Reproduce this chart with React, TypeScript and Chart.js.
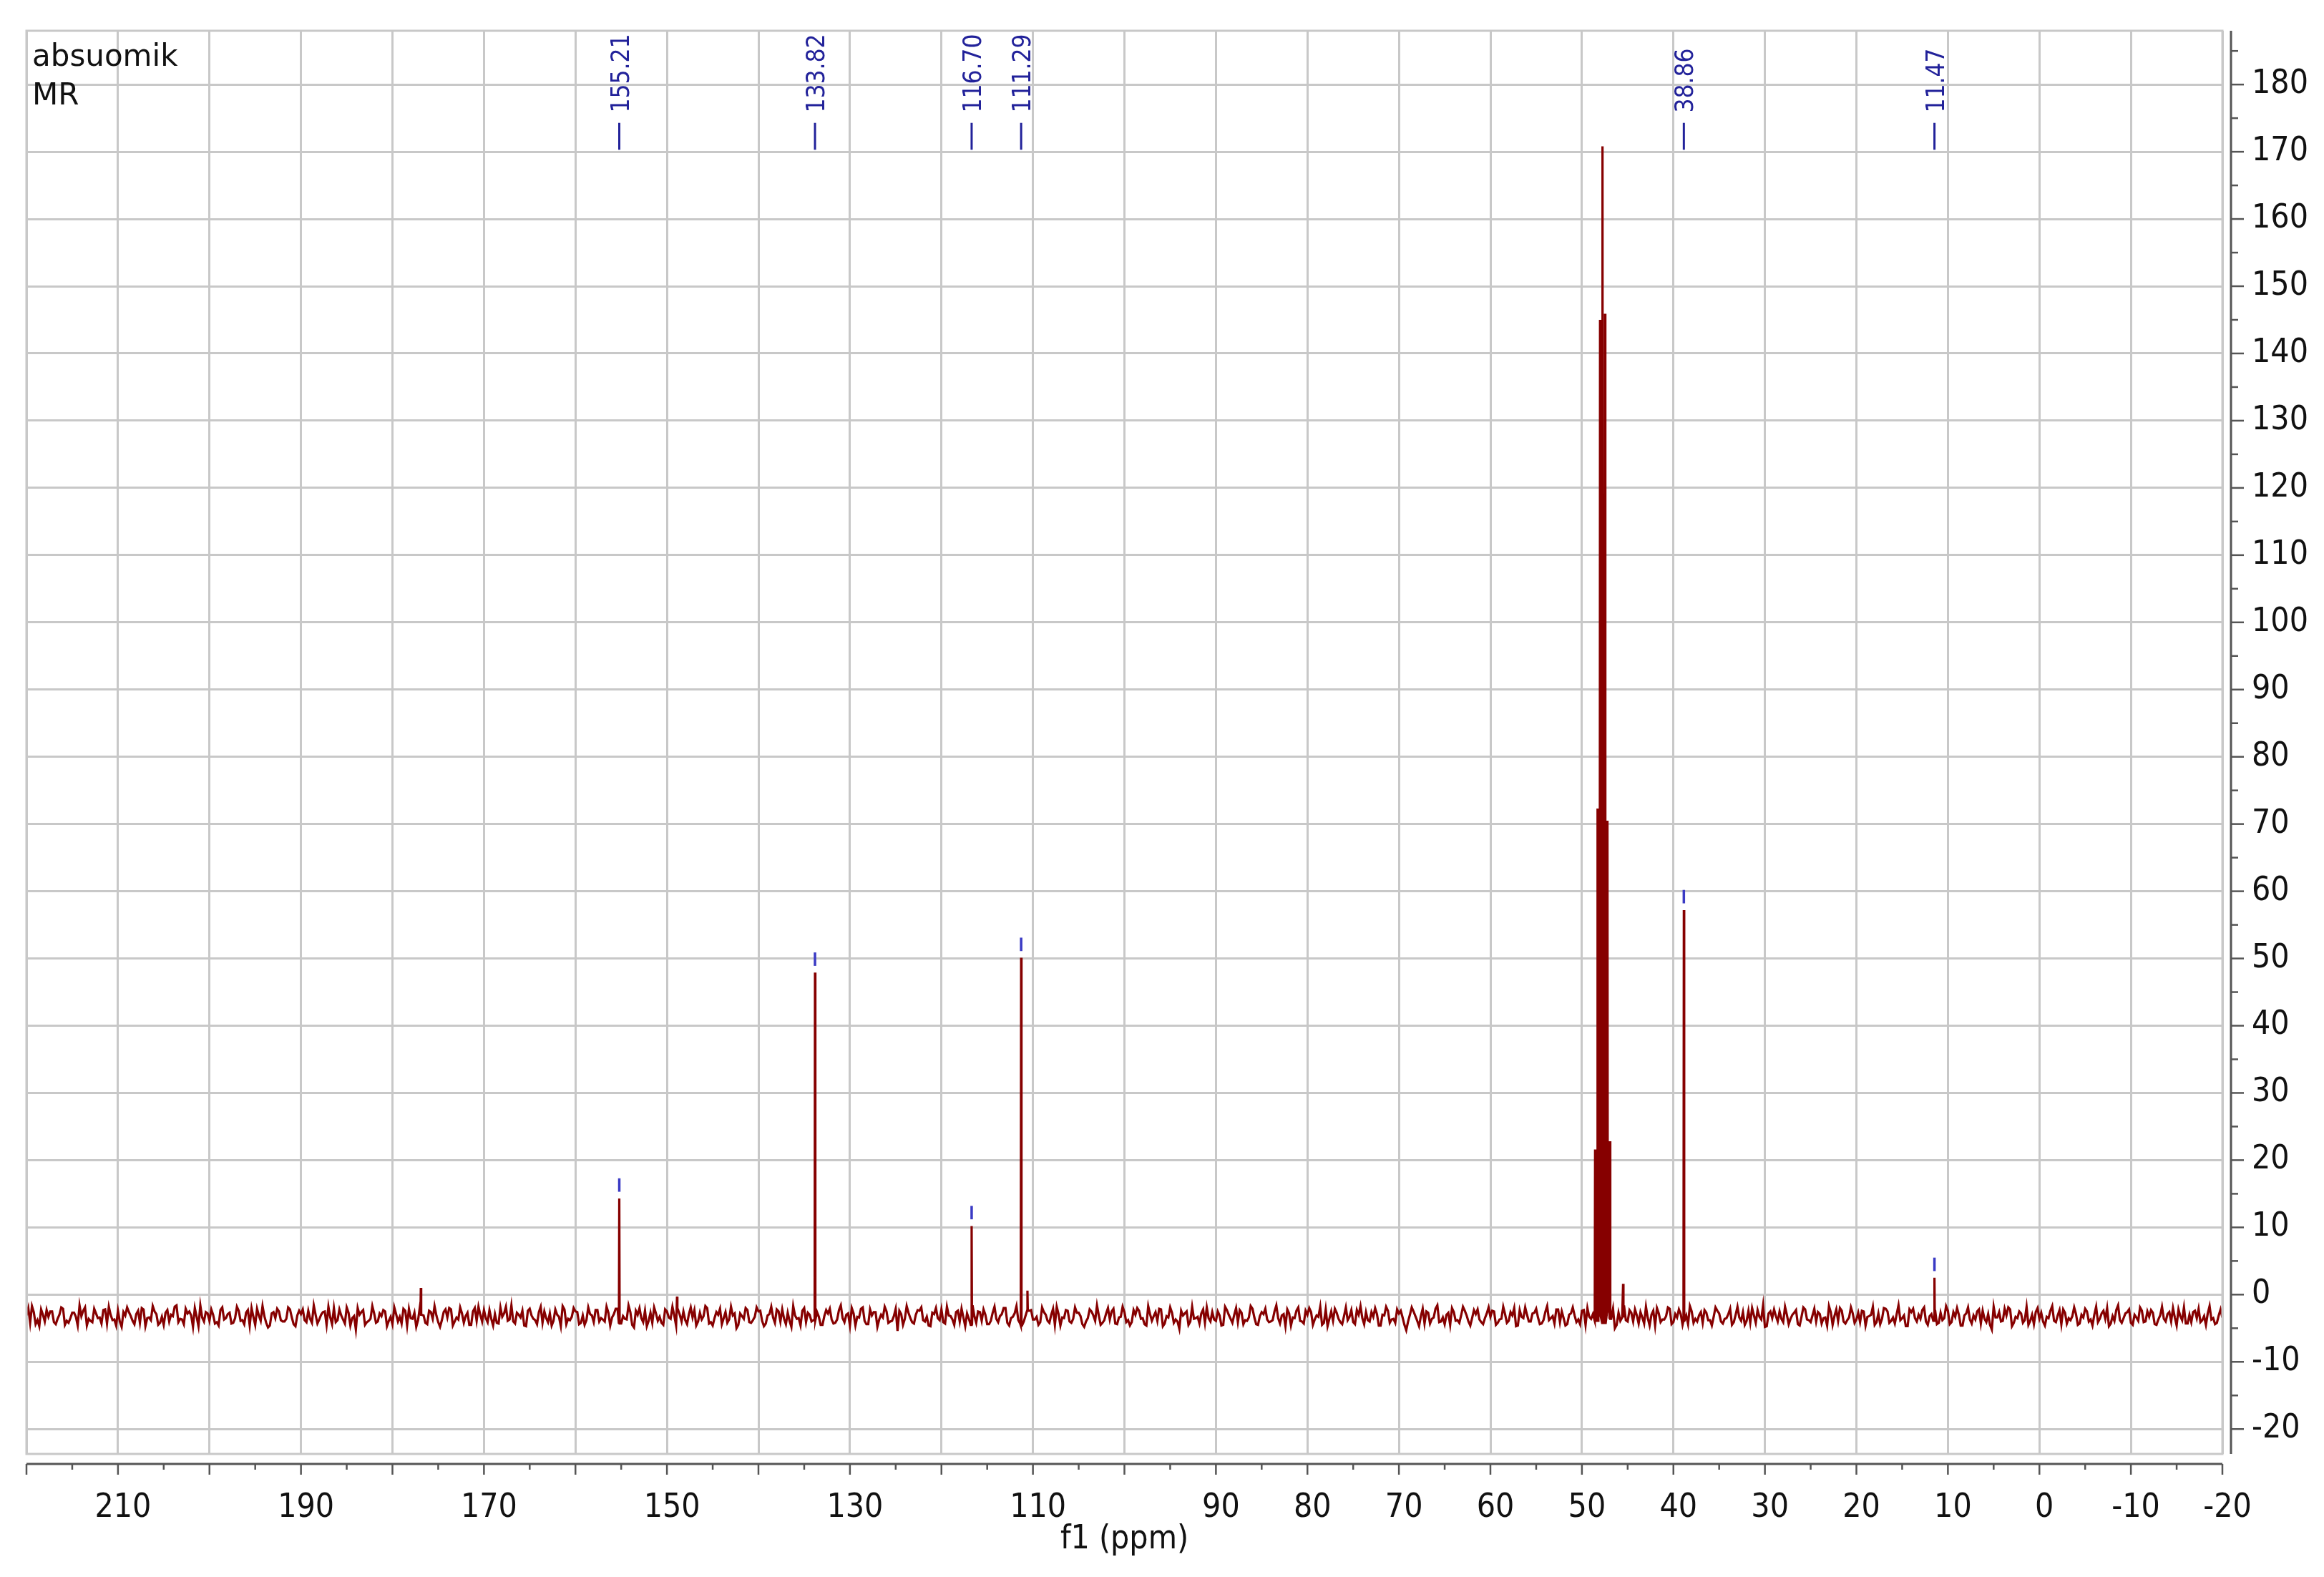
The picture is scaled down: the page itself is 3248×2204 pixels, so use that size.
import { useEffect, useRef } from "react";
import { Chart, registerables } from "chart.js";

Chart.register(...registerables);

// ---- axis ranges (ppm reversed) ----
const X_MIN = -20;
const X_MAX = 220;
const Y_MIN = -23.7;
const Y_MAX = 188;

// ---- baseline noise: samples every 0.4 ppm starting at 220 ppm ----
const noiseStart = 220;
const noiseStep = 0.4;
const noise = [
  -3.1,-4.2,-2.6,-3.8,-2.2,-4.0,-3.3,-2.5,-4.4,-3.0,-2.1,-3.9,-3.5,-2.7,-4.6,-3.2,-1.9,-3.6,-4.1,-2.8,
  -3.4,-2.3,-4.3,-3.0,-3.7,-2.4,-4.8,-3.1,-2.6,-3.9,-2.9,-4.2,-2.2,-3.5,-3.8,-2.5,-4.5,-3.3,-2.7,-4.0,
  -3.2,-1.6,-3.6,-4.4,-2.8,-3.1,-2.0,-4.7,-3.4,-2.6,-3.9,-3.0,-4.1,-2.3,-3.7,-2.9,-4.3,-3.5,-2.4,-3.8,
  -2.7,-4.6,-3.3,-2.1,-3.9,-3.2,-4.9,-2.8,-3.5,-2.5,-4.0,-3.6,-2.2,-4.4,-3.1,-2.9,-3.8,-2.4,-4.2,-3.0,
  -3.7,-2.6,-4.5,-3.4,-2.0,-3.8,-3.1,-4.3,-2.7,-3.5,-5.2,-3.0,-2.3,-4.1,-3.6,-2.8,-4.0,-3.2,-2.5,-3.9,
  -4.4,-2.9,-3.3,-2.1,-4.6,-3.5,-2.7,-3.8,-3.0,-4.2,-2.4,-3.6,-3.1,-4.8,-2.6,-3.4,-2.2,-4.0,-3.7,-2.8,
  -3.2,-4.5,-2.5,-3.9,-3.0,-2.3,-4.1,-3.6,-2.9,-4.3,-3.3,-1.8,-3.7,-4.0,-2.7,-3.4,-4.6,-2.4,-3.1,-3.8,
  -2.6,-4.2,-3.5,-2.8,-3.9,-3.0,-4.7,-2.2,-3.6,-3.3,-2.5,-4.4,-3.1,-3.8,-2.9,-4.1,-2.3,-3.5,-4.0,-2.7,
  -3.4,-2.1,-4.3,-3.2,-3.7,-2.6,-4.9,-3.0,-3.5,-2.4,-3.9,-4.2,-2.8,-3.3,-4.5,-2.5,-3.6,-3.1,-2.2,-4.0,
  -3.8,-2.9,-3.4,-4.6,-2.7,-3.2,-2.0,-4.1,-3.5,-3.0,-4.4,-2.6,-3.7,-3.1,-5.0,-2.8,-3.6,-2.3,-4.2,-3.3,
  -2.5,-3.9,-4.3,-2.9,-3.4,-2.2,-4.0,-3.6,-2.7,-4.8,-3.1,-3.5,-2.4,-4.1,-3.0,-3.8,-2.6,-4.5,-3.2,-2.8,
  -3.7,-4.2,-2.3,-3.5,-3.0,-4.6,-2.8,-3.3,-2.1,-3.9,-4.4,-3.1,-2.6,-3.7,-3.4,-2.5,-4.0,-3.2,-5.4,-2.9,
  -3.6,-2.7,-4.1,-3.0,-2.4,-3.8,-3.3,-4.7,-2.9,-3.5,-2.2,-4.3,-3.1,-3.7,-2.6,-4.0,-3.4,-2.8,-4.5,-3.2,
  -2.5,-3.9,-3.0,-4.4,-2.7,-3.6,-3.2,-2.0,-4.2,-3.5,-2.8,-3.8,-4.6,-3.1,-2.4,-3.7,-3.3,-4.1,-2.6,-3.9,
  -3.0,-4.5,-2.9,-3.4,-2.3,-4.0,-3.6,-2.7,-3.2,-4.8,-3.5,-2.5,-3.9,-3.1,-4.2,-2.8,-3.7,-2.1,-4.4,-3.3,
  -2.6,-3.8,-4.1,-3.0,-2.4,-3.5,-4.6,-2.9,-3.2,-3.9,-2.2,-4.3,-3.4,-2.7,-3.7,-5.1,-3.1,-2.5,-4.0,-3.6,
  -3.3,-2.8,-4.2,-3.5,-2.6,-3.9,-3.1,-4.5,-2.3,-3.6,-3.0,-4.1,-2.7,-3.8,-3.4,-2.1,-4.4,-3.2,-2.9,-3.7,
  -4.0,-2.5,-3.5,-3.1,-4.7,-2.8,-3.4,-2.4,-3.9,-4.3,-3.0,-2.6,-3.7,-3.3,-4.5,-2.2,-3.6,-3.9,-2.7,-4.1,
  -3.2,-3.8,-2.3,-4.4,-3.0,-3.5,-2.6,-4.0,-3.3,-2.9,-4.6,-3.1,-2.4,-3.7,-4.2,-2.8,-3.4,-5.3,-3.0,-2.5,
  -3.9,-3.2,-4.3,-2.7,-3.6,-2.1,-4.1,-3.4,-3.0,-4.5,-2.6,-3.8,-3.1,-2.4,-4.0,-3.5,-2.9,-3.7,-4.4,-2.8,
  -3.3,-2.5,-4.2,-3.6,-2.9,-3.9,-3.1,-4.7,-2.3,-3.5,-3.0,-4.0,-2.7,-3.4,-4.3,-2.6,-3.8,-3.2,-2.2,-4.1,
  -3.5,-4.4,-2.8,-3.1,-3.7,-2.4,-4.5,-3.3,-2.9,-3.9,-3.0,-4.2,-2.5,-3.6,-5.0,-2.7,-3.4,-3.8,-2.3,-4.0,
  -3.1,-2.6,-4.3,-3.5,-3.0,-4.6,-2.8,-3.7,-3.2,-2.1,-4.1,-3.4,-2.9,-3.9,-4.4,-2.5,-3.6,-3.1,-4.2,-2.7,
  -3.8,-3.3,-2.4,-4.0,-3.6,-2.9,-4.5,-3.0,-3.4,-2.6,-3.9,-4.2,-3.1,-2.3,-3.7,-4.8,-2.8,-3.5,-3.2,-2.5,
  -4.1,-3.0,-3.6,-2.7,-4.4,-3.3,-2.2,-3.8,-3.1,-4.0,-2.9,-3.5,-4.6,-2.6,-3.2,-3.9,-2.4,-4.3,-3.4,-2.8,
  -3.7,-4.1,-2.5,-3.3,-3.0,-4.5,-2.8,-3.6,-2.1,-4.2,-3.4,-2.9,-3.8,-3.1,-4.7,-2.6,-3.5,-3.0,-2.3,-4.0,
  -3.2,-3.9,-4.4,-2.7,-3.5,-2.4,-4.1,-3.3,-3.0,-4.6,-2.8,-3.7,-3.1,-2.5,-4.3,-3.6,-2.9,-5.2,-3.4,-2.6,
  -3.9,-3.1,-2.2,-4.2,-3.5,-2.8,-3.8,-4.5,-3.0,-2.6,-3.6,-4.0,-3.3,-2.4,-3.9,-3.1,-4.4,-2.7,-3.5,-3.2,
  -2.9,-4.3,-3.4,-2.5,-3.7,-3.0,-4.1,-2.8,-3.6,-4.7,-3.2,-2.3,-3.8,-3.5,-2.6,-4.2,-3.0,-3.9,-2.4,-4.0,
  -3.3,-2.7,-4.5,-3.1,-3.6,-2.9,-4.0,-3.4,-2.2,-3.8,-4.3,-3.0,-2.6,-3.5,-4.1,-3.2,-2.8,-3.7,-4.4,-3.1,
  -3.4,
];
// ---- in-between noise samples: every 0.4 ppm starting at 219.8 ppm ----
const noiseMidStart = 219.8;
const noiseMid = [
  -2.0,-1.7,-4.4,-4.7,-3.0,-2.3,-2.5,-4.1,-3.6,-1.9,-4.5,-4.2,-2.7,-3.3,-1.6,-2.4,-4.6,-3.9,-2.1,-3.5,
  -4.3,-2.2,-1.8,-3.8,-4.6,-4.0,-2.6,-1.9,-3.2,-4.4,-2.4,-2.0,-4.7,-3.4,-1.7,-2.9,-4.2,-4.5,-2.3,-3.0,
  -1.8,-4.1,-3.7,-2.1,-2.5,-4.8,-3.3,-1.6,-4.0,-2.8,-2.2,-4.3,-4.6,-1.9,-3.5,-2.7,-4.2,-1.8,-3.9,-4.4,
  -2.3,-2.0,-4.5,-3.1,-1.7,-4.2,-4.6,-2.6,-2.1,-3.8,-4.0,-1.9,-3.4,-4.7,-2.4,-2.2,-4.1,-3.6,-1.6,-4.3,
  -3.0,-2.5,-1.8,-4.4,-4.1,-2.2,-3.7,-1.9,-4.6,-3.2,-2.0,-2.6,-4.5,-3.9,-1.7,-4.2,-2.8,-2.3,-4.7,-3.3,
  -1.9,-4.0,-4.3,-2.4,-2.1,-3.6,-4.8,-1.8,-3.1,-4.4,-2.6,-1.7,-4.1,-3.8,-2.2,-2.0,-4.6,-3.4,-1.9,-4.2,
  -2.7,-4.5,-2.0,-1.8,-4.0,-3.5,-2.3,-4.6,-4.2,-1.9,-2.8,-3.9,-1.6,-4.3,-3.0,-2.4,-4.7,-2.1,-3.6,-4.4,
  -1.8,-2.5,-4.1,-4.6,-2.2,-3.3,-1.7,-4.4,-3.8,-2.0,-2.6,-4.2,-4.5,-1.9,-3.1,-2.3,-4.0,-3.7,-1.8,-4.6,
  -2.9,-2.1,-4.3,-3.6,-1.6,-4.5,-2.4,-2.0,-4.1,-4.7,-2.7,-1.9,-3.9,-4.2,-2.2,-3.4,-1.8,-4.6,-3.0,-2.5,
  -4.4,-1.9,-2.3,-4.0,-3.7,-1.7,-4.3,-4.6,-2.6,-2.1,-3.5,-4.2,-1.8,-2.8,-4.5,-3.2,-2.0,-4.1,-3.8,-1.9,
  -2.4,-4.7,-3.1,-1.8,-4.2,-2.5,-2.2,-4.4,-3.9,-1.7,-3.6,-4.6,-2.0,-2.7,-4.0,-1.9,-3.3,-4.5,-2.3,-2.1,
  -4.3,-3.7,-1.6,-4.1,-2.8,-2.0,-4.6,-3.4,-1.9,-4.4,-2.2,-2.6,-4.8,-3.0,-1.8,-4.2,-3.9,-2.1,-2.4,-4.5,
  -1.7,-3.5,-4.3,-2.3,-1.9,-4.0,-4.6,-2.7,-2.0,-3.8,-4.1,-1.8,-3.2,-4.5,-2.4,-2.1,-4.7,-3.6,-1.6,-4.2,
  -2.6,-2.2,-4.4,-3.9,-1.8,-4.1,-2.9,-2.0,-4.6,-3.3,-1.7,-4.3,-4.0,-2.5,-2.3,-3.7,-4.5,-1.9,-3.0,-4.2,
  -2.1,-1.8,-4.6,-3.5,-2.4,-4.2,-1.9,-2.7,-4.4,-4.0,-2.2,-3.1,-1.6,-4.5,-3.8,-2.0,-2.5,-4.3,-3.4,-1.8,
  -4.1,-4.6,-2.3,-2.0,-3.6,-4.4,-1.7,-3.9,-2.6,-2.1,-4.7,-3.2,-1.9,-4.2,-4.0,-2.4,-2.8,-4.5,-1.8,-3.5,
  -4.3,-2.2,-1.9,-4.0,-3.7,-2.5,-4.6,-1.8,-3.0,-4.2,-2.0,-2.3,-4.4,-3.9,-1.7,-3.4,-4.5,-2.6,-2.1,-4.1,
  -3.8,-1.6,-4.3,-2.9,-2.2,-4.6,-3.5,-1.9,-4.0,-2.4,-2.0,-4.5,-3.1,-1.8,-4.2,-4.7,-2.5,-2.1,-3.6,-4.4,
  -1.9,-3.3,-4.1,-2.3,-1.7,-4.4,-3.8,-2.6,-2.0,-4.6,-3.0,-1.8,-4.2,-3.6,-2.2,-2.4,-4.5,-4.0,-1.9,-3.2,
  -4.7,-2.1,-2.5,-4.3,-3.4,-1.6,-4.0,-4.4,-2.7,-2.0,-3.9,-4.2,-1.8,-3.1,-4.6,-2.3,-2.2,-4.1,-3.5,-1.9,
  -2.4,-4.5,-3.7,-1.8,-4.2,-2.6,-2.0,-4.6,-3.3,-1.9,-4.0,-2.8,-2.1,-4.4,-3.8,-1.7,-3.5,-4.3,-2.2,-2.5,
  -4.6,-3.0,-1.9,-4.1,-4.4,-2.3,-2.0,-3.6,-4.7,-1.8,-3.2,-4.2,-2.5,-2.1,-4.5,-3.9,-1.6,-4.0,-2.7,-2.2,
  -4.3,-3.4,-1.8,-4.6,-2.4,-2.0,-4.1,-3.7,-1.9,-4.4,-2.9,-2.2,-4.5,-3.1,-1.7,-4.2,-4.0,-2.6,-2.3,-3.8,
  -4.6,-1.9,-2.8,-4.3,-3.5,-2.1,-4.1,-1.8,-3.9,-4.5,-2.4,-2.0,-4.2,-3.3,-1.6,-4.7,-2.5,-2.2,-4.0,-3.6,
  -1.8,-4.4,-3.0,-2.3,-4.6,-1.9,-3.7,-4.1,-2.1,-2.6,-4.3,-3.4,-1.7,-4.5,-2.2,-2.0,-4.0,-3.8,-1.9,-4.2,
  -2.7,-2.4,-4.6,-3.2,-1.8,-4.1,-4.4,-2.0,-2.5,-3.9,-4.3,-1.6,-3.5,-4.7,-2.2,-2.1,-4.0,-3.6,-1.9,-4.5,
  -2.9,-2.3,-4.2,-3.8,-1.7,-4.4,-2.6,-2.0,-4.6,-3.1,-1.9,-4.3,-3.7,-2.2,-2.4,-4.1,-4.5,-1.8,-3.4,-4.0,
  -2.1,-1.9,-4.7,-3.3,-2.5,-4.2,-1.8,-3.9,-4.4,-2.0,-2.7,-4.6,-3.5,-1.7,-4.1,-2.3,-2.2,-4.3,-3.8,-1.9,
  -4.5,-3.0,-2.1,-4.0,-4.6,-1.8,-3.6,-2.4,-2.0,-4.3,-3.9,-1.6,-4.2,-2.8,-2.2,-4.5,-3.4,-1.9,-4.1,-2.5,
  -2.3,-4.4,-3.7,-1.8,-4.0,-2.6,-2.0,-4.6,-3.2,-1.9,-4.3,-4.1,-2.4,-2.1,-3.8,-4.5,-1.7,-3.5,-4.2,-2.2,
];

// ---- peaks (ppm, intensity) incl. small spikes and the solvent septet ----
const peakPpm = [176.9, 155.21, 148.9, 133.82, 116.70, 111.29, 110.6,
  48.56, 48.29, 48.02, 47.75, 47.48, 47.21, 46.94, 45.5, 38.86, 11.47];
const peakHeight = [1.0, 14.3, -0.3, 47.9, 10.2, 50.1, 0.6,
  21.6, 72.3, 145.0, 170.8, 145.9, 70.5, 22.8, 1.6, 57.2, 2.5];

// ---- picked peak labels ----
const labelPpm = [155.21, 133.82, 116.70, 111.29, 38.86, 11.47];
const labelText = ["155.21", "133.82", "116.70", "111.29", "38.86", "11.47"];

const headerLines = ["absuomik", "MR"];
const xTitle = "f1 (ppm)";

const FONT = "'DejaVu Sans Condensed', 'DejaVu Sans', sans-serif";
const HEADER_FONT = "'DejaVu Sans', sans-serif";
const LINE_COLOR = "#860000";
const GRID_COLOR = "#c8c8c8";
const AXIS_COLOR = "#555555";
const LABEL_BLUE = "#22229a";
const MARK_BLUE = "#3a3ac4";

function buildSpectrum() {
  const pts: { x: number; y: number }[] = [];
  const addNoise = (start: number, arr: number[]) =>
    arr.forEach((v, i) => {
      const x = start - i * noiseStep;
      if (!peakPpm.some((p) => Math.abs(p - x) < 0.06)) pts.push({ x, y: v });
    });
  addNoise(noiseStart, noise);
  addNoise(noiseMidStart, noiseMid);
  peakPpm.forEach((p, i) => {
    const idx = Math.max(0, Math.min(noise.length - 1, Math.round((noiseStart - p) / noiseStep)));
    const base = noise[idx];
    pts.push({ x: p + 0.04, y: base }, { x: p, y: peakHeight[i] }, { x: p - 0.04, y: base });
  });
  pts.sort((a, b) => b.x - a.x);
  return pts;
}

const zeroPadding = (s: any) => {
  s.paddingLeft = 0;
  s.paddingRight = 0;
  s.paddingTop = 0;
  s.paddingBottom = 0;
};

const decorPlugin = {
  id: "nmrDecor",
  afterDraw(chart: any) {
    const { ctx, chartArea: a, scales } = chart;
    const xs = scales.x;
    const ys = scales.y;
    ctx.save();
    const seg = (x1: number, y1: number, x2: number, y2: number) => {
      ctx.beginPath();
      ctx.moveTo(x1, y1);
      ctx.lineTo(x2, y2);
      ctx.stroke();
    };
    // plot frame
    ctx.strokeStyle = GRID_COLOR;
    ctx.lineWidth = 3;
    ctx.strokeRect(a.left, a.top, a.right - a.left, a.bottom - a.top);

    // detached right y axis
    ctx.strokeStyle = AXIS_COLOR;
    ctx.lineWidth = 3;
    const yAxisX = a.right + 12;
    seg(yAxisX, a.top, yAxisX, a.bottom);
    ctx.lineWidth = 2.5;
    for (let v = Math.ceil(Y_MIN / 5) * 5; v <= Y_MAX; v += 5) {
      const py = ys.getPixelForValue(v);
      seg(yAxisX, py, yAxisX + (v % 10 === 0 ? 18 : 10), py);
    }
    // detached bottom x axis
    ctx.lineWidth = 3;
    const xAxisY = a.bottom + 14;
    seg(a.left, xAxisY, a.right, xAxisY);
    ctx.lineWidth = 2.5;
    for (let v = X_MIN; v <= X_MAX; v += 5) {
      const px = xs.getPixelForValue(v);
      seg(px, xAxisY, px, xAxisY + (v % 10 === 0 ? 15 : 8));
    }

    // header text
    ctx.fillStyle = "#111";
    ctx.font = `42px ${HEADER_FONT}`;
    ctx.textAlign = "left";
    ctx.textBaseline = "alphabetic";
    headerLines.forEach((t, i) => ctx.fillText(t, a.left + 8, a.top + 49 + i * 54));

    // peak labels and pick markers
    labelPpm.forEach((p, i) => {
      const px = xs.getPixelForValue(p);
      ctx.strokeStyle = LABEL_BLUE;
      ctx.lineWidth = 3;
      seg(px, ys.getPixelForValue(170.3), px, ys.getPixelForValue(174.3));
      ctx.save();
      ctx.translate(px, ys.getPixelForValue(175.8));
      ctx.rotate(-Math.PI / 2);
      ctx.fillStyle = LABEL_BLUE;
      ctx.font = `35px ${FONT}`;
      ctx.textAlign = "left";
      ctx.textBaseline = "alphabetic";
      ctx.fillText(labelText[i], 0, 13);
      ctx.restore();
      const k = peakPpm.indexOf(p);
      const top = k >= 0 ? peakHeight[k] : 0;
      ctx.strokeStyle = MARK_BLUE;
      ctx.lineWidth = 3.5;
      seg(px, ys.getPixelForValue(top + 1.0), px, ys.getPixelForValue(top + 3.0));
    });
    ctx.restore();
  },
};

export default function App() {
  const ref = useRef<HTMLCanvasElement | null>(null);
  useEffect(() => {
    if (!ref.current) return;
    const tickFont = { family: FONT, size: 46 };
    const chart = new Chart(ref.current, {
      type: "line",
      data: {
        datasets: [
          {
            data: buildSpectrum(),
            borderColor: LINE_COLOR,
            borderWidth: 3.2,
            pointRadius: 0,
            fill: false,
            tension: 0,
          },
        ],
      },
      options: {
        responsive: false,
        animation: false,
        devicePixelRatio: 1,
        layout: { padding: { left: 37, top: 43, right: 0, bottom: 0 } },
        plugins: { legend: { display: false }, tooltip: { enabled: false } },
        scales: {
          x: {
            type: "linear",
            reverse: true,
            min: X_MIN,
            max: X_MAX,
            afterFit: (s: any) => {
              s.height = 172;
              zeroPadding(s);
            },
            border: { display: false },
            grid: { color: GRID_COLOR, lineWidth: 3, drawTicks: false },
            ticks: {
              stepSize: 10,
              autoSkip: false,
              maxRotation: 0,
              includeBounds: false,
              padding: 48,
              labelOffset: 7,
              color: "#111",
              font: tickFont,
              callback: (v: any) => {
                const n = Number(v);
                return n < 100 || Math.abs(Math.round(n / 10)) % 2 === 1 ? String(n) : "";
              },
            },
            title: {
              display: true,
              text: xTitle,
              color: "#111",
              font: tickFont,
              padding: { top: 0, bottom: 24 },
            },
          },
          y: {
            type: "linear",
            position: "right",
            min: Y_MIN,
            max: Y_MAX,
            afterFit: (s: any) => {
              s.width = 142;
              zeroPadding(s);
            },
            border: { display: false },
            grid: { color: GRID_COLOR, lineWidth: 3, drawTicks: false },
            ticks: {
              stepSize: 10,
              autoSkip: false,
              includeBounds: false,
              padding: 41,
              color: "#111",
              font: tickFont,
            },
          },
        },
      },
      plugins: [decorPlugin],
    } as any);
    return () => chart.destroy();
  }, []);
  return (
    <canvas
      ref={ref}
      width={3248}
      height={2204}
      style={{ position: "absolute", left: 0, top: 0, width: "3248px", height: "2204px" }}
    />
  );
}
